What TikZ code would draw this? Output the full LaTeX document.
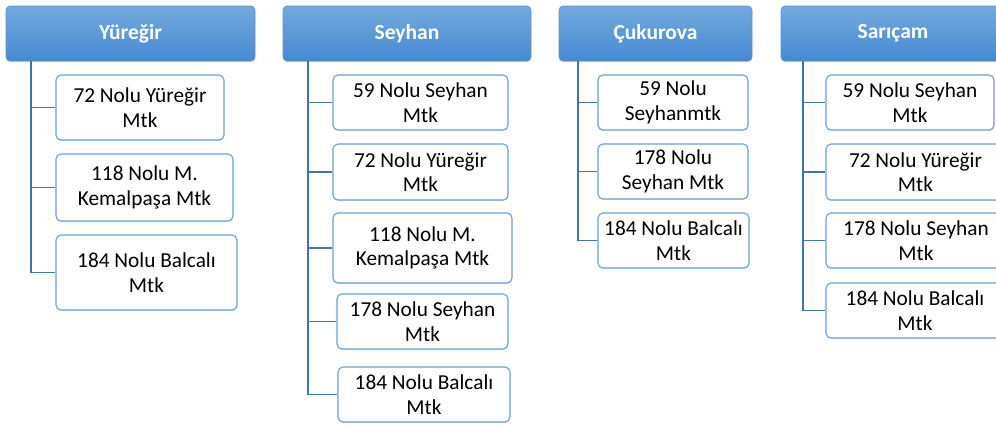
\documentclass[tikz,border=0pt]{standalone}
\usepackage{fontspec}
\setmainfont{Carlito}
\usetikzlibrary{shadows}
\definecolor{hdrtop}{HTML}{74A9DF}
\definecolor{hdrbot}{HTML}{4789D2}
\definecolor{hdrline}{HTML}{5B95D2}
\definecolor{boxline}{HTML}{6A9FDA}
\definecolor{conn}{HTML}{4274AD}
\begin{document}
\begin{tikzpicture}[x=1pt,y=-1pt,
  hdr/.style={rounded corners=4pt, top color=hdrtop, bottom color=hdrbot, draw=hdrline, line width=0.6pt,
    text=white, font=\fontsize{21.5}{25}\selectfont\bfseries, inner sep=0pt, minimum height=55pt,
    drop shadow={opacity=0.25, shadow xshift=0pt, shadow yshift=-1.2pt}},
  leaf/.style={rounded corners=5pt, fill=white, draw=boxline, line width=1.1pt,
    font=\fontsize{21.3}{24.5}\selectfont, align=center, inner sep=0pt,
    drop shadow={opacity=0.2, shadow xshift=0pt, shadow yshift=-1.2pt}},
  conn/.style={draw=conn, line width=1.9pt}]
\useasboundingbox (0,0) rectangle (996,424);
\clip (0,0) rectangle (996,424);
\fill[white] (0,0) rectangle (996,424);

% Yuregir
\node[hdr, minimum width=249pt] (hY) at (130.5,33.5) {Yüreğir};
\node[leaf, minimum width=168pt, minimum height=65pt] (Y1) at (140,107.5) {72 Nolu Yüreğir\\Mtk};
\node[leaf, minimum width=177pt, minimum height=67pt] (Y2) at (144.5,187.5) {118 Nolu M.\\Kemalpaşa Mtk};
\node[leaf, minimum width=181pt, minimum height=75pt] (Y3) at (146.5,272.5) {184 Nolu Balcalı\\Mtk};
\foreach \c in {Y1,Y2,Y3} \draw[conn] ([xshift=25pt]hY.south west) |- (\c.west);

% Seyhan
\node[hdr, minimum width=248pt] (hS) at (407,33.5) {Seyhan};
\node[leaf, minimum width=175pt, minimum height=55pt] (S1) at (420.5,102.5) {59 Nolu Seyhan\\Mtk};
\node[leaf, minimum width=175pt, minimum height=56pt] (S2) at (420.5,172) {72 Nolu Yüreğir\\Mtk};
\node[leaf, minimum width=179pt, minimum height=70pt] (S3) at (422.5,248) {118 Nolu M.\\Kemalpaşa Mtk};
\node[leaf, minimum width=171pt, minimum height=55pt] (S4) at (422.5,321.5) {178 Nolu Seyhan\\Mtk};
\node[leaf, minimum width=172pt, minimum height=55pt] (S5) at (424,394.5) {184 Nolu Balcalı\\Mtk};
\foreach \c in {S1,S2,S3,S4,S5} \draw[conn] ([xshift=25pt]hS.south west) |- (\c.west);

% Cukurova
\node[hdr, minimum width=193pt] (hC) at (655.5,33.5) {Çukurova};
\node[leaf, minimum width=150pt, minimum height=55pt] (C1) at (673,102.5) {59 Nolu\\Seyhanmtk};
\node[leaf, minimum width=150pt, minimum height=55pt] (C2) at (673,171.5) {178 Nolu\\Seyhan Mtk};
\node[leaf, minimum width=151pt, minimum height=55pt] (C3) at (673.5,240.5) {184 Nolu Balcalı\\Mtk};
\foreach \c in {C1,C2,C3} \draw[conn] ([xshift=19pt]hC.south west) |- (\c.west);

% Saricam
\node[hdr, minimum width=224pt] (hR) at (893,33.5) {Sarıçam};
\node[leaf, minimum width=168pt, minimum height=55pt] (R1) at (910,102.5) {59 Nolu Seyhan\\Mtk};
\node[leaf, minimum width=179pt, minimum height=56pt] (R2) at (915.5,172) {72 Nolu Yüreğir\\Mtk};
\node[leaf, minimum width=180pt, minimum height=55pt] (R3) at (916,240.5) {178 Nolu Seyhan\\Mtk};
\node[leaf, minimum width=178pt, minimum height=55pt] (R4) at (915,310.5) {184 Nolu Balcalı\\Mtk};
\foreach \c in {R1,R2,R3,R4} \draw[conn] ([xshift=22pt]hR.south west) |- (\c.west);
\end{tikzpicture}
\end{document}
